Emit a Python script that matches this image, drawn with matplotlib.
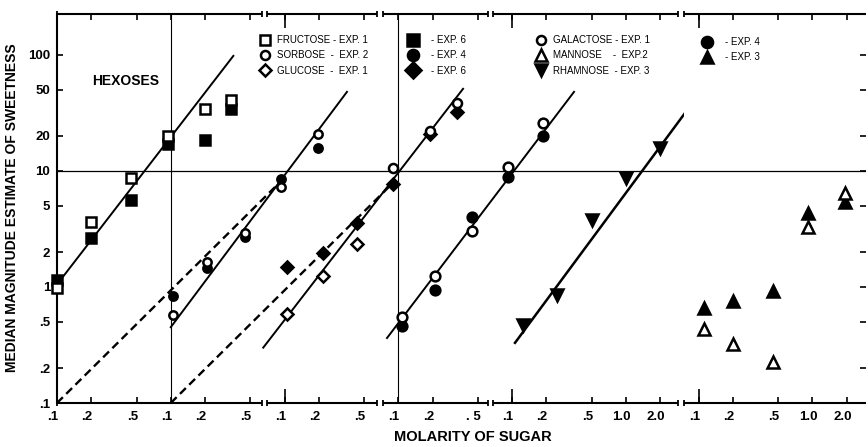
import matplotlib
matplotlib.use("Agg")
import matplotlib.pyplot as plt
import matplotlib.transforms as mtransforms
from matplotlib.lines import Line2D
from matplotlib.ticker import FixedLocator, NullLocator, NullFormatter

plt.rcParams['font.family'] = ['Liberation Sans', 'DejaVu Sans']

# main axis is one long log scale; every printed .1/.2/.5 block is a decade further on
fructose_x = [0.1, 0.2, 0.45, 0.95, 2.0, 3.4]
fructose_exp1 = [0.98, 3.6, 8.7, 20, 34, 41]
fructose_exp6 = [1.15, 2.65, 5.6, 17, 18.5, 34]

sorbose_x = [1.05, 2.1, 4.5, 9.3, 19.7]
sorbose_exp2 = [0.57, 1.64, 2.92, 7.2, 20.9]
sorbose_exp4 = [0.84, 1.46, 2.7, 8.5, 15.8]

glucose_x = [10.5, 21.8, 43, 90, 190, 328]
glucose_exp1 = [0.58, 1.24, 2.35]          # open diamonds (first three)
glucose_open_hi = [10.6, 22, 38.6]        # open circles (last three)
glucose_exp6 = [1.49, 1.96, 3.56, 7.7, 21, 32]

galactose_x = [108, 210, 445, 923, 1875]
galactose_exp1 = [0.55, 1.24, 3.04, 10.8, 26]
galactose_exp4 = [0.46, 0.94, 4.0, 8.9, 20]

rhamnose_x = [1250, 2500, 5000, 10000, 20000]
rhamnose_exp3 = [0.47, 0.85, 3.78, 8.7, 15.8]

# right-hand panel (own molarity scale)
mannose_x = [0.11, 0.2, 0.45, 0.92, 1.94]
mannose_exp2 = [0.435, 0.323, 0.226, 3.29, 6.46]
mannose_exp3 = [0.66, 0.76, 0.92, 4.34, 5.4]

# fitted lines (end points)
fructose_fit = ([0.1, 3.55], [1.05, 98])
sorbose_fit = ([1.0, 35.4], [0.45, 48])
glucose_fit = ([6.5, 371], [0.30, 51])
galactose_fit = ([79.6, 3507], [0.363, 48])
rhamnose_fit = ([1062, 33200], [0.33, 31.6])
dashed_1 = ([0.1, 9.7], [0.1, 8.5])
dashed_2 = ([1.0, 90], [0.1, 7.9])

y_ticks = [0.1, 0.2, 0.5, 1, 2, 5, 10, 20, 50, 100]
y_labels = ['.1', '.2', '.5', '1', '2', '5', '10', '20', '50', '100']
main_ticks = [0.1, 0.2, 0.5, 1, 2, 5, 10, 20, 50, 100, 200, 500,
              1000, 2000, 5000, 10000, 20000]
main_labels = ['.1', '.2', '.5', '.1', '.2', '.5', '.1', '.2', '.5',
               '.1', '.2', '. 5', '.1', '.2', '.5', '1.0', '2.0']
mannose_ticks = [0.1, 0.2, 0.5, 1.0, 2.0]
mannose_labels = ['.1', '.2', '.5', '1.0', '2.0']

fig = plt.figure(figsize=(8.68, 4.47), dpi=100)
ax = fig.add_axes([57 / 868, 44 / 447, 621 / 868, 389 / 447])
ax2 = fig.add_axes([684 / 868, 44 / 447, 182 / 868, 389 / 447], sharey=ax)

for a in (ax, ax2):
    a.set_xscale('log')
    a.set_yscale('log')
ax.set_xlim(0.1, 28770)
ax2.set_xlim(0.0738, 2.96)
ax.set_ylim(0.1, 225)

k = 'black'


def pts(a, x, y, marker, filled, ms):
    a.plot(x, y, ls='none', marker=marker, ms=ms, mew=1.8, mec=k,
           mfc=k if filled else 'white', zorder=4, clip_on=False)


# reference lines
ax.axvline(1, color=k, lw=0.8)
ax.axvline(100, color=k, lw=0.8)
ax.axhline(10, color=k, lw=0.9, xmax=1 + 8 / 621, clip_on=False)
ax2.axhline(10, color=k, lw=0.9)

# fitted lines
for fx, fy in [fructose_fit, sorbose_fit, glucose_fit, galactose_fit]:
    ax.plot(fx, fy, color=k, lw=1.4)
ax.plot(*rhamnose_fit, color=k, lw=1.8, clip_on=False)
for fx, fy in [dashed_1, dashed_2]:
    ax.plot(fx, fy, color=k, lw=1.7, dashes=(3.5, 2.0))

pts(ax, fructose_x, fructose_exp6, 's', True, 7)
pts(ax, fructose_x, fructose_exp1, 's', False, 7)
pts(ax, sorbose_x, sorbose_exp4, 'o', True, 6)
pts(ax, sorbose_x, sorbose_exp2, 'o', False, 6)
pts(ax, glucose_x, glucose_exp6, 'D', True, 6.5)
pts(ax, glucose_x[:3], glucose_exp1, 'D', False, 6.5)
pts(ax, glucose_x[3:], glucose_open_hi, 'o', False, 6.5)
pts(ax, galactose_x, galactose_exp4, 'o', True, 7)
pts(ax, galactose_x, galactose_exp1, 'o', False, 7)
pts(ax, rhamnose_x, rhamnose_exp3, 'v', True, 9)
pts(ax2, mannose_x, mannose_exp3, '^', True, 9)
pts(ax2, mannose_x, mannose_exp2, '^', False, 9)

# axis lines with small breaks between the printed blocks
for a, pieces in [(ax, [(0.1, 6.34), (7.0, 65), (73.5, 615), (681, 28770)]),
                  (ax2, [(0.0738, 2.96)])]:
    tr = mtransforms.blended_transform_factory(a.transData, a.transAxes)
    for lo, hi in pieces:
        for yy in (0, 1):
            a.plot([lo, hi], [yy, yy], color=k, lw=1.5, transform=tr,
                   clip_on=False, solid_capstyle='butt')
            a.plot([lo], [yy], ls='none', marker='|', ms=5, mew=1.3,
                   color=k, transform=tr, clip_on=False)
            if a is ax:
                a.plot([hi], [yy], ls='none', marker='|', ms=5, mew=1.3,
                       color=k, transform=tr, clip_on=False)
    for s in a.spines.values():
        s.set_visible(False)
ax.spines['left'].set_visible(True)
ax.spines['left'].set_linewidth(1.5)

ax.set_yticks(y_ticks, y_labels)
ax.yaxis.set_minor_locator(NullLocator())
ax.set_xticks(main_ticks, main_labels)
ax.xaxis.set_minor_locator(FixedLocator([10, 1000]))
ax.xaxis.remove_overlapping_locs = False
ax2.set_xticks(mannose_ticks, mannose_labels)
ax2.xaxis.set_minor_locator(FixedLocator([0.1]))
ax2.xaxis.remove_overlapping_locs = False
for a in (ax, ax2):
    a.xaxis.set_minor_formatter(NullFormatter())

for a in (ax, ax2):
    a.tick_params(axis='x', which='major', direction='in', top=True,
                  bottom=True, length=4, width=1.2, pad=6, labelsize=9.5)
    a.tick_params(axis='x', which='minor', direction='in', top=True,
                  bottom=True, length=10, width=1.2)
ax.tick_params(axis='y', direction='in', length=4, width=1.2, pad=5,
               labelsize=9.5)
ax2.tick_params(axis='y', direction='in', left=False, right=True,
                labelleft=False, length=4, width=1.2)

off = mtransforms.ScaledTranslation(-3 / 72, 0, fig.dpi_scale_trans)
for a in (ax, ax2):
    for lab in a.get_xticklabels():
        lab.set_fontweight('bold')
        lab.set_transform(lab.get_transform() + off)
for lab in ax.get_yticklabels():
    lab.set_fontweight('bold')

ax.text(0.057, 0.828, 'HEXOSES', transform=ax.transAxes, fontsize=10,
        fontweight='bold', va='center')
fig.text(12 / 868, 1 - 208 / 447, 'MEDIAN MAGNITUDE ESTIMATE OF SWEETNESS',
         rotation=90, ha='center', va='center', fontsize=10,
         fontweight='bold')
fig.text(473 / 868, 1 - 437 / 447, 'MOLARITY OF SUGAR', ha='center',
         va='center', fontsize=10.5, fontweight='bold')


def key(marker, filled, ms):
    return Line2D([], [], ls='none', marker=marker, ms=ms, mew=1.8, mec=k,
                  mfc=k if filled else 'white')


legends = [
    ([key('s', False, 7), key('o', False, 6.5), key('D', False, 6.5)],
     ['FRUCTOSE - EXP. 1', 'SORBOSE  -  EXP. 2', 'GLUCOSE  -  EXP. 1'],
     260, 35, 0.7),
    ([key('s', True, 9), key('o', True, 8), key('D', True, 8)],
     ['- EXP. 6', '- EXP. 4', '- EXP. 6'], 408, 35, 1.4),
    ([key('o', False, 6.5), key('^', False, 9), key('v', True, 9)],
     ['GALACTOSE - EXP. 1', 'MANNOSE    -  EXP.2', 'RHAMNOSE  - EXP. 3'],
     536, 35, 0.7),
    ([key('o', True, 8), key('^', True, 9)],
     ['- EXP. 4', '- EXP. 3'], 702, 37, 1.35),
]
for handles, labels, lx, ly, pad in legends:
    fig.legend(handles, labels, loc='upper left',
               bbox_to_anchor=(lx / 868, 1 - ly / 447),
               bbox_transform=fig.transFigure, frameon=False, fontsize=7,
               borderpad=0, borderaxespad=0, handlelength=1.0,
               handletextpad=pad, labelspacing=0.55)

fig.savefig('out.png', dpi=100)
